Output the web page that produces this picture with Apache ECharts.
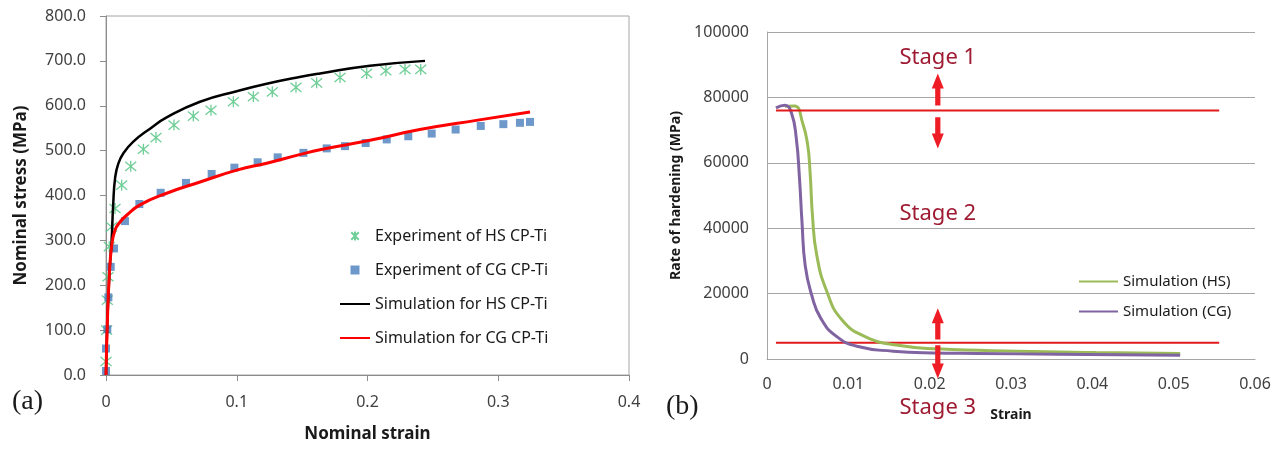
<!DOCTYPE html>
<html>
<head>
<meta charset="UTF-8">
<title>hardening</title>
<script src="https://cdn.jsdelivr.net/npm/echarts@6/dist/echarts.min.js"></script>
<style>
*{margin:0;padding:0}
html,body{width:100%;height:100%;background:#fff}
#main{width:1282px;height:450px}
</style>
</head>
<body>
<div id="main"></div>
<script>
// (a) nominal stress-strain
var hsExpStrain = [0, 0.0005, 0.001, 0.0015, 0.0025, 0.0043, 0.0069, 0.012, 0.0189, 0.0286, 0.0382, 0.052, 0.0668, 0.0803, 0.0974, 0.1127, 0.1272, 0.1453, 0.1611, 0.179, 0.1994, 0.2141, 0.2287, 0.2407];
var hsExpStress = [30, 100, 167, 219, 286, 330, 371, 423, 465, 503, 529, 557, 577, 590, 609, 620, 631, 641, 651, 663, 672, 678, 681, 681];
var cgExpStrain = [0, 0, 0.001, 0.0018, 0.0036, 0.0061, 0.0145, 0.0255, 0.0418, 0.0612, 0.0808, 0.0982, 0.116, 0.1313, 0.151, 0.1688, 0.1828, 0.1986, 0.2147, 0.2312, 0.2491, 0.2674, 0.2866, 0.3039, 0.3166, 0.3243];
var cgExpStress = [9, 59, 102, 173, 241, 282, 343, 381, 406, 428, 448, 462, 474, 485, 495, 505, 510, 517, 525, 532, 538, 547, 555, 559, 562, 564];
var hsSimStrain = [0, 0.001, 0.0026, 0.0043, 0.0055, 0.007, 0.0094, 0.0133, 0.0209, 0.0337, 0.0464, 0.0719, 0.1007, 0.1229, 0.148, 0.1637, 0.2019, 0.244];
var hsSimStress = [0, 115, 226, 300, 380, 440, 471, 494, 520, 549, 574, 609, 633, 649, 664, 672, 689, 700];
var cgSimStrain = [0, 0.001, 0.0026, 0.0043, 0.0069, 0.0107, 0.0158, 0.026, 0.0464, 0.0719, 0.1007, 0.1229, 0.148, 0.1637, 0.2019, 0.240, 0.2843, 0.3243];
var cgSimStress = [0, 115, 226, 286, 323, 341, 356, 379, 405, 430, 457, 472, 491, 502, 523, 547, 568, 586];

// (b) rate of hardening
var hsRateStrain = [0.0022, 0.0034, 0.0044, 0.005, 0.0053, 0.0056, 0.0061, 0.0073, 0.0092, 0.0122, 0.0161, 0.021, 0.0307, 0.0405, 0.0508];
var hsRate = [77300, 77400, 72000, 65500, 57000, 43500, 32000, 21000, 12000, 6700, 4200, 3100, 2350, 1950, 1700];
var cgRateStrain = [0.0011, 0.0022, 0.003, 0.0036, 0.004, 0.0043, 0.0047, 0.0055, 0.0066, 0.0085, 0.0112, 0.0155, 0.0204, 0.0259, 0.0356, 0.0508];
var cgRate = [76800, 77600, 75300, 67500, 55000, 42000, 28500, 19500, 12500, 7000, 3800, 2400, 1850, 1700, 1450, 1150];
var stageLineStrain = [0.0011, 0.0556];
var stageBounds = [76000, 5000];
var arrowStrain = 0.021;
// [base, tip] of each red arrow, in MPa
var arrows = [[77500, 87300], [73900, 64400], [6000, 15500], [4200, -6000]];
var stageNames = ['Stage 1', 'Stage 2', 'Stage 3'];
var stageLabelRate = [92000, 44500, -15000];

function zip(xs, ys) {
    return xs.map(function (x, i) { return [x, ys[i]]; });
}

var font = '"Noto Sans", "Open Sans", sans-serif';
var asterisk = 'path://M0,0L10,10M10,0L0,10M5,-1L5,11';
var square = 'path://M0,0L10,0L10,10L0,10Z';

var myChart = echarts.init(document.getElementById('main'));
var option = {
    animation: false,
    textStyle: {fontFamily: font},
    grid: [
        {left: 106, top: 16, width: 523, height: 359, show: true, borderColor: '#a6a6a6', borderWidth: 1},
        {left: 767, top: 32, width: 488, height: 327}
    ],
    xAxis: [
        {
            type: 'value', gridIndex: 0, min: 0, max: 0.4, interval: 0.1,
            name: 'Nominal strain', nameLocation: 'middle', nameGap: 51,
            nameTextStyle: {fontSize: 17, fontWeight: 'bold', color: '#1a1a1a'},
            axisLine: {lineStyle: {color: '#8c8c8c'}},
            axisTick: {show: true, length: 6, lineStyle: {color: '#8c8c8c'}},
            splitLine: {show: false},
            axisLabel: {fontSize: 16, color: '#404040', margin: 19,
                formatter: function (v) { return v === 0 ? '0' : v.toFixed(1); }}
        },
        {
            type: 'value', gridIndex: 1, min: 0, max: 0.06, interval: 0.01,
            name: 'Strain', nameLocation: 'middle', nameGap: 49,
            nameTextStyle: {fontSize: 14, fontWeight: 'bold', color: '#1a1a1a'},
            axisLine: {lineStyle: {color: '#a6a6a6'}},
            axisTick: {show: false},
            splitLine: {show: false},
            axisLabel: {fontSize: 16, color: '#404040', margin: 17,
                formatter: function (v) { return v === 0 ? '0' : v.toFixed(2); }}
        }
    ],
    yAxis: [
        {
            type: 'value', gridIndex: 0, min: 0, max: 800, interval: 100,
            name: 'Nominal stress (MPa)', nameLocation: 'middle', nameGap: 76,
            nameTextStyle: {fontSize: 17, fontWeight: 'bold', color: '#1a1a1a'},
            axisLine: {show: true, lineStyle: {color: '#8c8c8c'}},
            axisTick: {show: true, length: 6, lineStyle: {color: '#8c8c8c'}},
            splitLine: {show: false},
            axisLabel: {fontSize: 16, color: '#404040', margin: 20,
                formatter: function (v) { return v.toFixed(1); }}
        },
        {
            type: 'value', gridIndex: 1, min: 0, max: 100000, interval: 20000,
            name: 'Rate of hardening (MPa)', nameLocation: 'middle', nameGap: 84,
            nameTextStyle: {fontSize: 14, fontWeight: 'bold', color: '#1a1a1a'},
            axisLine: {show: true, lineStyle: {color: '#a6a6a6'}},
            axisTick: {show: false},
            splitLine: {show: true, lineStyle: {color: '#a6a6a6'}},
            axisLabel: {fontSize: 16, color: '#404040', margin: 18,
                formatter: function (v) { return String(v); }}
        }
    ],
    legend: [
        {
            data: [
                {name: 'Experiment of HS CP-Ti'},
                {name: 'Experiment of CG CP-Ti', icon: square},
                {name: 'Simulation for HS CP-Ti', itemStyle: {opacity: 0}},
                {name: 'Simulation for CG CP-Ti', itemStyle: {opacity: 0}}
            ],
            orient: 'vertical', left: 334, top: 223, itemWidth: 30, itemHeight: 9, itemGap: 18,
            textStyle: {fontSize: 16, color: '#1a1a1a', fontFamily: font}
        },
        {
            data: [
                {name: 'Simulation (HS)', itemStyle: {opacity: 0}},
                {name: 'Simulation (CG)', itemStyle: {opacity: 0}}
            ],
            orient: 'vertical', left: 1073, top: 269, itemWidth: 39, itemHeight: 9, itemGap: 15,
            textStyle: {fontSize: 15, color: '#1a1a1a', fontFamily: font}
        }
    ],
    graphic: [
        {type: 'text', left: 12, top: 388, style: {text: '(a)', font: '28px "Liberation Serif", serif', fill: '#1a1a1a'}},
        {type: 'text', left: 666, top: 393, style: {text: '(b)', font: '28px "Liberation Serif", serif', fill: '#1a1a1a'}}
    ],
    series: [
        {
            name: 'Experiment of HS CP-Ti', type: 'scatter', xAxisIndex: 0, yAxisIndex: 0,
            symbol: asterisk, symbolSize: 11,
            itemStyle: {color: 'rgba(0,0,0,0)', borderColor: '#4cc27d', borderWidth: 1.3},
            data: zip(hsExpStrain, hsExpStress), z: 3
        },
        {
            name: 'Experiment of CG CP-Ti', type: 'scatter', xAxisIndex: 0, yAxisIndex: 0,
            symbol: 'rect', symbolSize: 8,
            itemStyle: {color: '#4a7ebb'},
            data: zip(cgExpStrain, cgExpStress), z: 3
        },
        {
            name: 'Simulation for HS CP-Ti', type: 'line', xAxisIndex: 0, yAxisIndex: 0,
            symbol: 'none', smooth: 0.5,
            lineStyle: {color: '#000', width: 2.5}, itemStyle: {color: '#000'},
            data: zip(hsSimStrain, hsSimStress), z: 4
        },
        {
            name: 'Simulation for CG CP-Ti', type: 'line', xAxisIndex: 0, yAxisIndex: 0,
            symbol: 'none', smooth: 0.5,
            lineStyle: {color: '#ff0000', width: 3}, itemStyle: {color: '#ff0000'},
            data: zip(cgSimStrain, cgSimStress), z: 5
        },
        {
            name: 'Simulation (HS)', type: 'line', xAxisIndex: 1, yAxisIndex: 1,
            symbol: 'none', smooth: 0.5,
            lineStyle: {color: '#9bbb59', width: 3}, itemStyle: {color: '#9bbb59'},
            data: zip(hsRateStrain, hsRate)
        },
        {
            name: 'Simulation (CG)', type: 'line', xAxisIndex: 1, yAxisIndex: 1,
            symbol: 'none', smooth: 0.5,
            lineStyle: {color: '#8064a2', width: 3}, itemStyle: {color: '#8064a2'},
            data: zip(cgRateStrain, cgRate)
        },
        {
            name: 'stage-upper', type: 'line', xAxisIndex: 1, yAxisIndex: 1, silent: true,
            symbol: 'none', lineStyle: {color: '#e31a1c', width: 2},
            data: zip(stageLineStrain, [stageBounds[0], stageBounds[0]])
        },
        {
            name: 'stage-lower', type: 'line', xAxisIndex: 1, yAxisIndex: 1, silent: true,
            symbol: 'none', lineStyle: {color: '#e31a1c', width: 2},
            data: zip(stageLineStrain, [stageBounds[1], stageBounds[1]]), z: 1
        }
    ]
};
myChart.setOption(option);

// arrows and stage labels, placed through the (b) axes
function toPx(x, y) {
    return myChart.convertToPixel({xAxisIndex: 1, yAxisIndex: 1}, [x, y]);
}
var extra = [];
arrows.forEach(function (a) {
    var p0 = toPx(arrowStrain, a[0]);
    var p1 = toPx(arrowStrain, a[1]);
    var dir = p1[1] < p0[1] ? -1 : 1;
    var head = 15, hw = 6, sw = 2.6;
    var cx = p0[0], neck = p1[1] - dir * head;
    extra.push({
        type: 'polygon', silent: true, z: 10,
        shape: {points: [
            [cx - sw, p0[1]], [cx - sw, neck], [cx - hw, neck], [cx, p1[1]],
            [cx + hw, neck], [cx + sw, neck], [cx + sw, p0[1]]
        ]},
        style: {fill: '#ee1c25'}
    });
});
stageNames.forEach(function (n, i) {
    var p = toPx(arrowStrain, stageLabelRate[i]);
    extra.push({
        type: 'text', silent: true, z: 10, x: p[0], y: p[1],
        style: {text: n, fill: '#9e1b32', font: '22px ' + font, align: 'center', verticalAlign: 'middle'}
    });
});
myChart.setOption({graphic: option.graphic.concat(extra)});
</script>
</body>
</html>
